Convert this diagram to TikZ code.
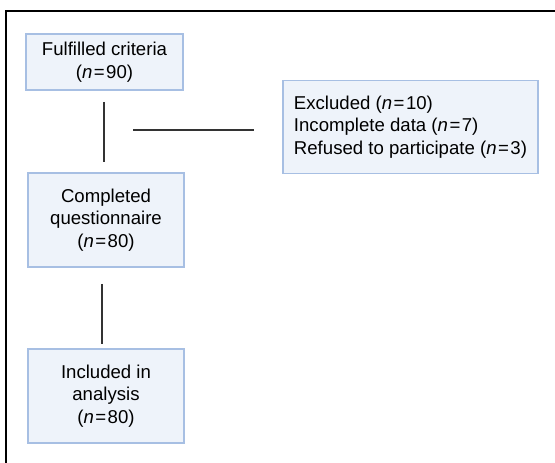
\documentclass[tikz,border=0pt]{standalone}
\usepackage{fontspec}
\setmainfont{Liberation Sans}
\usepackage{xcolor}
\usepackage{tikz}
\definecolor{boxfill}{HTML}{EEF3FA}
\definecolor{boxline}{HTML}{A7BFE3}
\definecolor{linkline}{HTML}{333333}
\newcommand{\nval}[1]{(\textit{n}\kern1.5pt=\kern1.5pt#1)}

\begin{document}
\begin{tikzpicture}[x=1pt,y=-1pt,
  flowbox/.style={draw=boxline,fill=boxfill,line width=1.5pt,inner sep=0pt,
    font=\fontsize{18.6}{22.5}\selectfont,align=center},
  link/.style={draw=linkline,line width=2pt}]
\useasboundingbox (0,0) rectangle (555,463);

\draw[line width=2.6pt,black] (555,11) -- (6,11) -- (6,463);

\node[flowbox,minimum width=157pt,minimum height=56pt] (fulfilled) at (104.5,62) {Fulfilled criteria\\\nval{90}};
\node[flowbox,minimum width=156pt,minimum height=94pt] (completed) at (106,220) {Completed\\questionnaire\\\nval{80}};
\node[flowbox,minimum width=156pt,minimum height=94pt] (included) at (106,396) {Included in\\analysis\\\nval{80}};
\node[flowbox,minimum width=255pt,minimum height=93pt,align=left] (excluded) at (410.5,127) {Excluded \nval{10}\\Incomplete data \nval{7}\\Refused to participate \nval{3}};

\coordinate (split) at (104,130);

\draw[link] ([xshift=-0.5pt]fulfilled.south) ++(0,11) -- ++(0,60);
\draw[link] ([xshift=-4pt]completed.south) ++(0,16) -- ++(0,60);
\draw[link,shorten <=29pt,shorten >=28pt] (split) -- (split -| excluded.west);
\end{tikzpicture}
\end{document}
